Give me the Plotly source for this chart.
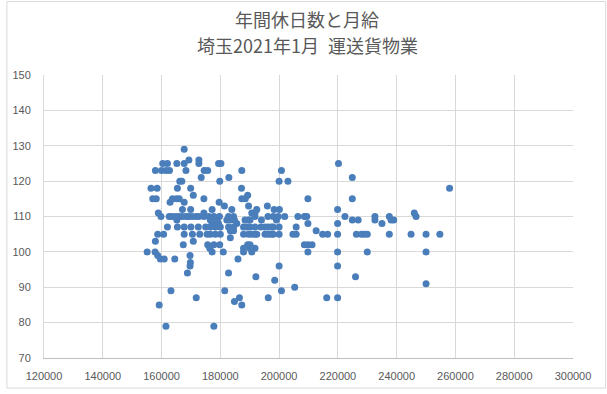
import plotly.graph_objects as go

# Monthly salary (yen) and annual holidays (days)
monthly_salary = [
    167700,
    169300, 172700,
    160400, 162000, 165200, 167700, 172700, 179400, 180200, 220200,
    157900, 160000, 161500, 162700, 168300, 174500, 175700, 187300, 200800,
    173500, 182900, 224900,
    166200, 166900, 179800, 200000, 203000,
    156400, 158500, 165400, 169900, 187200, 258000,
    170800, 189300,
    157000, 158200, 163700, 165100, 166000, 174400, 187300, 188500, 209800, 224900,
    162900, 167700, 179600,
    181400, 189600, 196000,
    167100, 169900, 177200, 183900, 192400, 198300, 200100, 219900,
    158900, 174400, 190700, 191800, 246000,
    159800, 162600, 163600, 164900, 166000, 167000, 168300, 169300, 170400, 171700,
    172700, 174400, 176100, 177800, 179700, 182800, 184500, 191800, 196200, 198000,
    199700, 201900, 206400, 208600, 209400, 222400, 232600, 237500, 246600,
    165200, 176600, 178900, 182200, 183400, 184800, 188400, 189600, 190100, 194000,
    199100, 224900, 226900, 232600, 238100, 239000,
    177200, 179400, 185600, 209800, 219900, 235000,
    162000, 165400, 167700, 170000, 172500, 175000, 176600, 178300, 180000, 182800,
    184500, 187900, 189000, 190100, 191800, 193800, 195200, 196300, 197400, 198000,
    200000, 205800,
    183400, 184500, 212600,
    158700, 160700, 167700, 170500, 173000, 175500, 176600, 178300, 180000, 187900,
    189600, 190700, 191800, 192400, 195200, 196300, 197400, 198000, 200000, 204700,
    205800, 214800, 216500, 219900, 226300, 228000, 228900, 230000, 237500, 244900,
    250000, 254700,
    183400,
    157900, 170800,
    167400, 175700, 177800, 179800, 189300, 190100, 208600, 209800, 211200,
    176400, 187900, 190100, 191000, 191800,
    155100, 157800, 177200, 181000, 187900, 190700, 209800, 219900, 230000, 250000,
    158700, 169700,
    159600, 160900, 164500, 186000,
    169800,
    169700, 200000, 219900,
    168800, 182800,
    192100, 226000,
    198500,
    250000,
    205300,
    163200, 181500, 200800,
    171800, 186500, 196300, 216200, 219900,
    184800,
    159200, 187300,
    161500, 177800,
]

annual_holidays = (
    [129] * 1 + [126] * 2 + [125] * 8 + [123] * 9 + [121] * 3 + [120] * 5
    + [118] * 6 + [116] * 2 + [115] * 10 + [114] * 3 + [113] * 3 + [112] * 8
    + [111] * 5 + [110] * 29 + [109] * 16 + [108] * 6 + [107] * 22 + [106] * 3
    + [105] * 32 + [104] * 1 + [103] * 2 + [102] * 9 + [101] * 5 + [100] * 10
    + [99] * 2 + [98] * 4 + [97] * 1 + [96] * 3 + [94] * 2 + [93] * 2 + [92] * 1
    + [91] * 1 + [90] * 1 + [89] * 3 + [87] * 5 + [86] * 1 + [85] * 2 + [79] * 2
)

x_ticks = [120000, 140000, 160000, 180000, 200000, 220000, 240000, 260000, 280000, 300000]
y_ticks = [70, 80, 90, 100, 110, 120, 130, 140, 150]

title_line1 = "年間休日数と月給"
title_line2 = "埼玉2021年1月\u2002運送貨物業"

W, H = 607, 394
ML, MR, MT, MB = 38, 34, 75, 32
PW, PH = W - ML - MR, H - MT - MB

fig = go.Figure()
fig.add_trace(go.Scatter(
    x=monthly_salary[:len(annual_holidays)],
    y=annual_holidays,
    mode="markers",
    marker=dict(size=7, color="#4a7ebb", line=dict(width=0)),
    showlegend=False,
    hoverinfo="x+y",
))

tick_font = dict(family="Liberation Sans, Arial, sans-serif", size=11, color="#595959")
title_font = dict(family="Noto Sans CJK JP, sans-serif", size=18, color="#595959")

fig.update_layout(
    width=W, height=H,
    margin=dict(l=ML, r=MR, t=MT, b=MB, pad=0),
    paper_bgcolor="white", plot_bgcolor="white",
    xaxis=dict(
        range=[120000, 300000], tickvals=x_ticks, ticktext=[str(v) for v in x_ticks],
        showgrid=True, gridcolor="#d9d9d9", gridwidth=1,
        showline=True, linecolor="#bfbfbf", linewidth=1,
        zeroline=False, ticks="", tickfont=tick_font, ticklabelstandoff=8,
        fixedrange=True,
    ),
    yaxis=dict(
        range=[70, 150], tickvals=y_ticks, ticktext=[str(v) for v in y_ticks],
        showgrid=True, gridcolor="#d9d9d9", gridwidth=1,
        showline=True, linecolor="#d9d9d9", linewidth=1,
        zeroline=False, ticks="", tickfont=tick_font, ticklabelstandoff=10,
        fixedrange=True,
    ),
    annotations=[
        dict(text=title_line1, xref="paper", yref="paper",
             x=(303.5 - ML) / PW, y=(H - MB - 18) / PH,
             xanchor="center", yanchor="middle", showarrow=False, font=title_font),
        dict(text=title_line2, xref="paper", yref="paper",
             x=(304.5 - ML) / PW, y=(H - MB - 45) / PH,
             xanchor="center", yanchor="middle", showarrow=False, font=title_font),
    ],
    shapes=[
        dict(type="rect", xref="paper", yref="paper",
             x0=(0.5 - ML) / PW, x1=(W - 1 - ML) / PW,
             y0=(H - MB - (H - 1.5)) / PH, y1=(H - MB - 0.5) / PH,
             line=dict(color="#d9d9d9", width=1), fillcolor="rgba(0,0,0,0)", layer="below"),
    ],
)

fig.write_html("out.html")
